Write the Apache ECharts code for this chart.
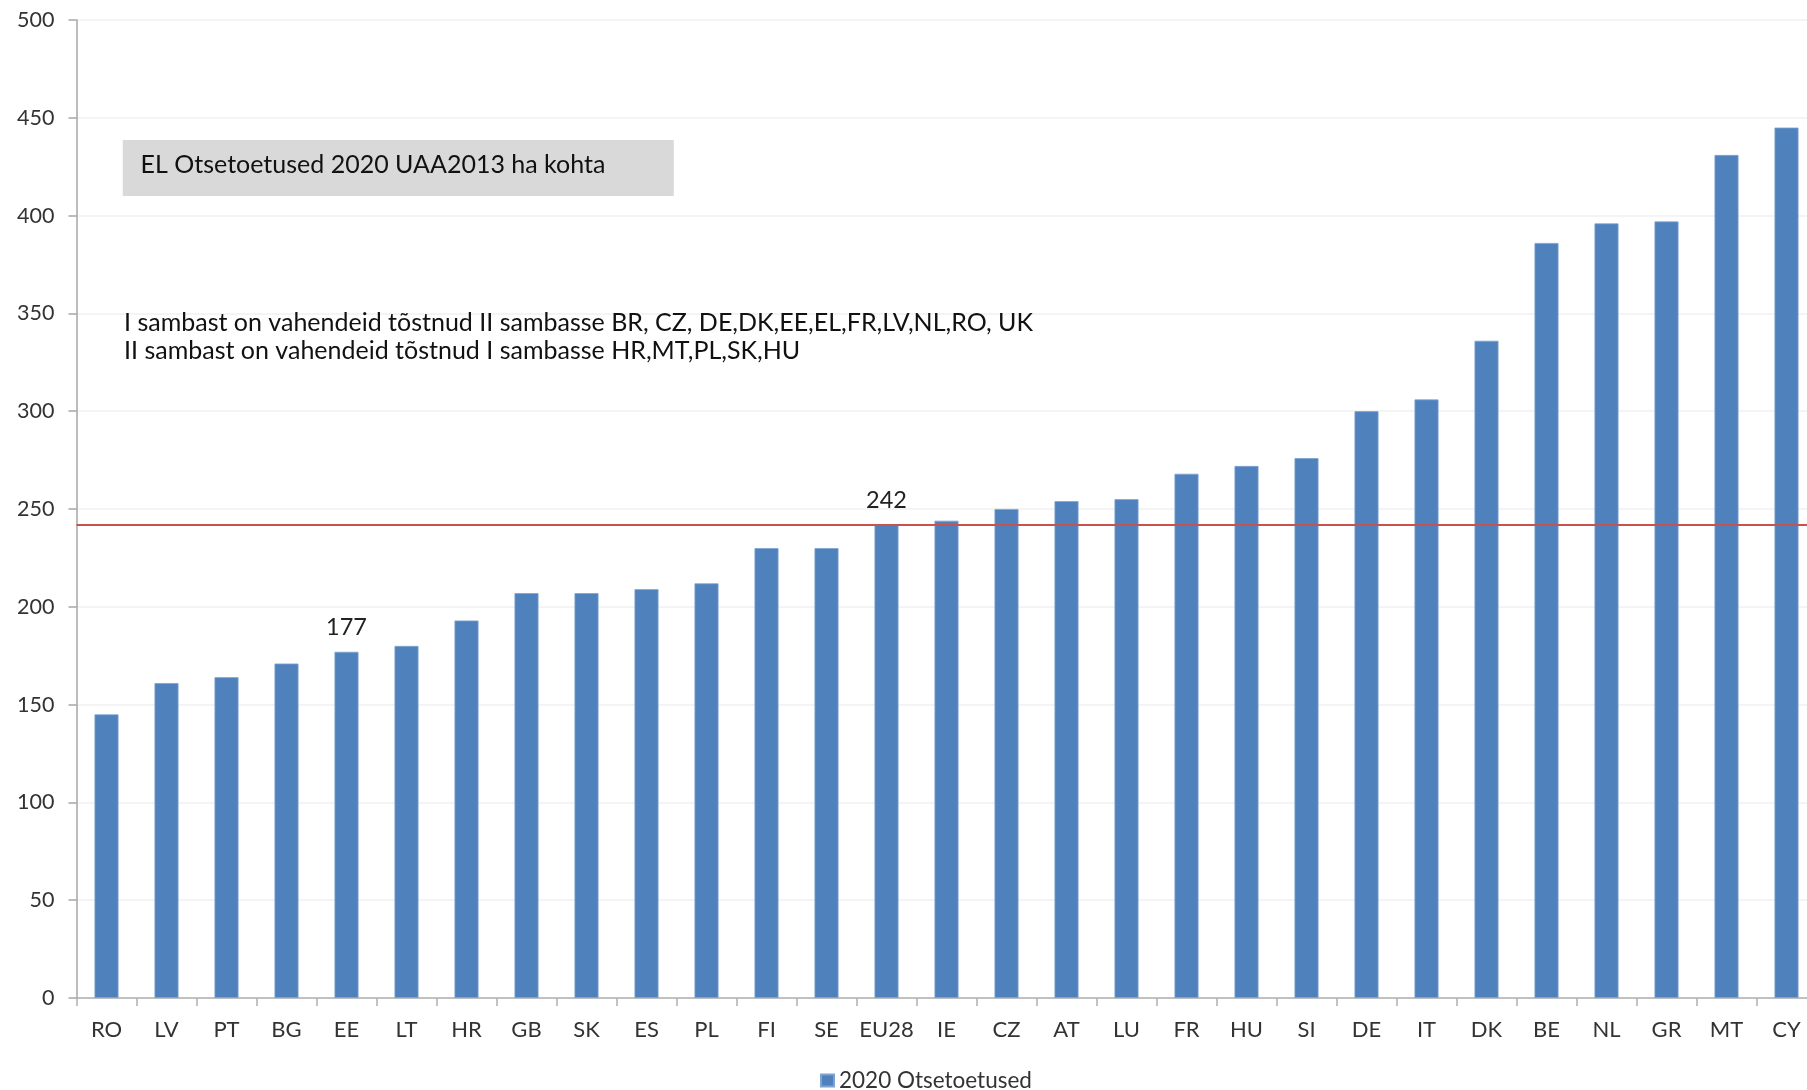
<!DOCTYPE html>
<html>
<head>
<meta charset="utf-8">
<script src="https://cdn.jsdelivr.net/npm/echarts@6/dist/echarts.min.js"></script>
<style>
html,body{margin:0;padding:0;background:#fff;}
#chart{width:1807px;height:1090px;}
</style>
</head>
<body>
<div id="chart"></div>
<script>
const categories = ['RO','LV','PT','BG','EE','LT','HR','GB','SK','ES','PL','FI','SE','EU28','IE','CZ','AT','LU','FR','HU','SI','DE','IT','DK','BE','NL','GR','MT','CY'];
const values = [145,161,164,171,177,180,193,207,207,209,212,230,230,242,244,250,254,255,268,272,276,300,306,336,386,396,397,431,445];
const labeledCategories = ['EE','EU28'];
const averageValue = 242;
const yTicks = {min:0, max:500, interval:50};
const seriesName = '2020 Otsetoetused';
const boxTitle = 'EL Otsetoetused 2020 UAA2013 ha kohta';
const noteLines = [
  'I sambast on vahendeid tõstnud II sambasse BR, CZ, DE,DK,EE,EL,FR,LV,NL,RO, UK',
  'II sambast on vahendeid tõstnud I sambasse HR,MT,PL,SK,HU'
];

const FONT = 'Lato';
const chart = echarts.init(document.getElementById('chart'));
const barData = values.map((v,i)=>({
  value:v,
  label:{show: labeledCategories.includes(categories[i])}
}));

chart.setOption({
  animation:false,
  textStyle:{fontFamily:FONT},
  grid:{left:76.5, width:1740, top:20, bottom:92, containLabel:false, outerBoundsMode:'none'},
  legend:{
    left:815, top:1064, icon:'rect', itemWidth:13, itemHeight:12, itemGap:10,
    textStyle:{fontFamily:FONT, fontSize:22.5, color:'#333'},
    data:[seriesName]
  },
  xAxis:{
    type:'category', data:categories,
    axisLine:{lineStyle:{color:'#b0b0b0', width:1.5}},
    axisTick:{show:true, length:8, alignWithLabel:false, lineStyle:{color:'#b0b0b0', width:1.5}},
    axisLabel:{interval:0, margin:21, fontFamily:FONT, fontSize:22, color:'#333'}
  },
  yAxis:{
    type:'value', min:yTicks.min, max:yTicks.max, interval:yTicks.interval,
    axisLine:{show:true, lineStyle:{color:'#a6a6a6', width:1.5}},
    axisTick:{show:true, length:8, lineStyle:{color:'#a6a6a6', width:1.5}},
    splitLine:{lineStyle:{color:'#f0f0f0', width:1.5}},
    axisLabel:{margin:22, fontFamily:FONT, fontSize:21.5, color:'#333'}
  },
  series:[{
    name:seriesName, type:'bar', data:barData, barWidth:24,
    itemStyle:{color:'#4f81bd', borderColor:'#7ea3d2', borderWidth:0.8},
    label:{position:'top', distance:12, fontFamily:FONT, fontSize:23.5, color:'#222'},
    markLine:{
      symbol:'none', silent:true,
      label:{show:false},
      lineStyle:{color:'#c8524f', width:2, type:'solid'},
      data:[{yAxis:averageValue}]
    }
  }],
  graphic:[
    {type:'rect', left:122.8, top:140, shape:{width:551, height:56}, style:{fill:'#d9d9d9'}, z:10},
    {type:'text', left:140.6, top:152, style:{text:boxTitle, fontFamily:FONT, fontSize:25, fill:'#111'}, z:11},
    {type:'text', left:124, top:310, style:{text:noteLines[0], fontFamily:FONT, fontSize:25, fill:'#111'}, z:11},
    {type:'text', left:124, top:338, style:{text:noteLines[1], fontFamily:FONT, fontSize:25, fill:'#111'}, z:11}
  ]
});
</script>
</body>
</html>
